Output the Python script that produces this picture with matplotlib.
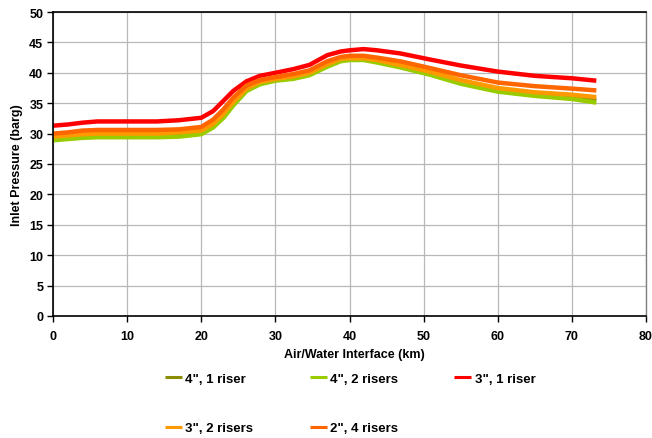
import matplotlib
matplotlib.use("Agg")
import matplotlib.pyplot as plt

# distance along the line (km)
km = [0, 2, 4, 6, 10, 14, 17, 20, 21.6, 23, 24.3, 26.1, 27.9, 30, 32.4, 34.6,
      37, 38.8, 40, 41.9, 43.7, 46.8, 50.8, 55, 60, 65, 70, 73.3]

# inlet pressure (barg) per riser configuration
p_4in_1riser = [29.1, 29.3, 29.5, 29.6, 29.6, 29.6, 29.7, 30.1, 31.2, 32.9, 34.9, 37.2, 38.3, 38.9,
                39.2, 39.8, 41.2, 42.1, 42.3, 42.3, 41.9, 41.1, 39.9, 38.5, 37.2, 36.5, 36.0, 35.5]
p_4in_2risers = [28.9, 29.1, 29.3, 29.4, 29.4, 29.4, 29.5, 29.9, 31.0, 32.6, 34.6, 37.0, 38.1, 38.7,
                 39.0, 39.6, 41.0, 41.9, 42.1, 42.1, 41.7, 40.9, 39.7, 38.2, 36.9, 36.2, 35.7, 35.1]
p_3in_1riser = [31.3, 31.5, 31.8, 32.0, 32.0, 32.0, 32.2, 32.6, 33.7, 35.4, 37.0, 38.6, 39.5, 40.0,
                40.6, 41.3, 42.9, 43.5, 43.7, 43.9, 43.7, 43.2, 42.2, 41.2, 40.2, 39.5, 39.1, 38.7]
p_3in_2risers = [29.5, 29.7, 29.9, 30.0, 30.0, 30.0, 30.2, 30.5, 31.6, 33.3, 35.2, 37.4, 38.5, 39.0,
                 39.4, 40.0, 41.4, 42.3, 42.4, 42.4, 42.1, 41.3, 40.2, 38.8, 37.5, 36.8, 36.4, 36.0]
p_2in_4risers = [30.0, 30.2, 30.5, 30.6, 30.6, 30.6, 30.7, 31.1, 32.3, 34.0, 35.9, 37.9, 38.8, 39.3,
                 39.8, 40.4, 41.9, 42.6, 42.8, 42.8, 42.5, 41.9, 40.8, 39.6, 38.4, 37.8, 37.4, 37.1]

labels = ['4", 1 riser', '4", 2 risers', '3", 1 riser', '3", 2 risers', '2", 4 risers']
colors = ["#8c8c00", "#99cc00", "#ff0000", "#ff9900", "#ff6600"]
series = [p_4in_1riser, p_4in_2risers, p_3in_1riser, p_3in_2risers, p_2in_4risers]

plt.rcParams["font.family"] = ["Liberation Sans", "DejaVu Sans"]
plt.rcParams["font.weight"] = "bold"

fig = plt.figure(figsize=(6.52, 4.39), dpi=100)
ax = fig.add_axes([53 / 652, 1 - 317 / 439, 593 / 652, 304 / 439])

lines = []
for vals, lab, col in zip(series, labels, colors):
    ln, = ax.plot(km, vals, color=col, lw=3.2, label=lab, solid_capstyle="butt",
                  solid_joinstyle="round")
    lines.append(ln)

ax.set_xlim(0, 80)
ax.set_ylim(0, 50)
ax.set_xticks(range(0, 81, 10))
ax.set_yticks(range(0, 51, 5))
ax.grid(True, color="#b8b8b8", lw=0.9)
ax.set_axisbelow(True)
ax.tick_params(axis="both", labelsize=9, length=4, width=1, direction="out", pad=3)
ax.tick_params(axis="x", pad=6)
for s in ["left", "bottom", "top"]:
    ax.spines[s].set_color("black")
    ax.spines[s].set_linewidth(1.2)
ax.spines["right"].set_color("#808080")
ax.spines["right"].set_linewidth(1.0)

ax.set_xlabel("Air/Water Interface (km)", fontsize=9, fontweight="bold")
ax.set_ylabel("Inlet Pressure (barg)", fontsize=9, fontweight="bold")
ax.xaxis.set_label_coords(0.509, -0.105)
ax.yaxis.set_label_coords(-0.051, 0.5)

# legend laid out row-wise: reorder for matplotlib's column filling
order = [0, 3, 1, 4, 2]
leg = fig.legend([lines[i] for i in order], [labels[i] for i in order],
                 ncol=3, loc="center", bbox_to_anchor=(0.537, 0.079),
                 frameon=False, fontsize=9.5, handlelength=1.3, handletextpad=0.25,
                 columnspacing=4.25, labelspacing=2.85)
for h in leg.get_lines():
    h.set_linewidth(2.2)

fig.savefig("out.png", dpi=100)
